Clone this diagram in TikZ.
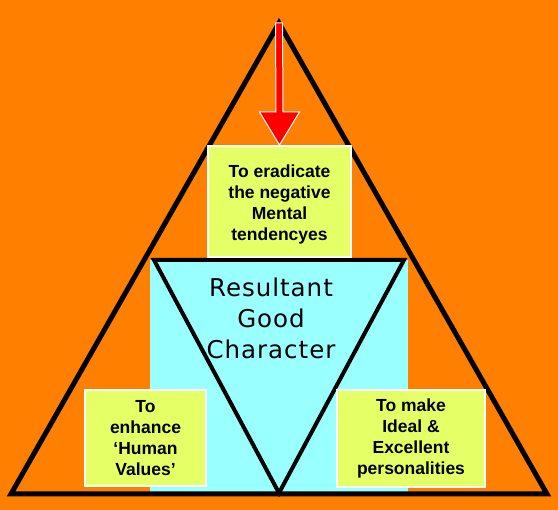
\documentclass[tikz,border=0pt]{standalone}
\usepackage{fontspec}
\setmainfont{Liberation Sans}
\newfontfamily\resfont[LetterSpace=4]{DejaVu Sans}
\usetikzlibrary{calc}
\definecolor{bgorange}{RGB}{255,128,0}
\definecolor{paleaqua}{RGB}{153,255,255}
\definecolor{limebox}{RGB}{229,255,102}

\begin{document}
\begin{tikzpicture}[x=1pt,y=-1pt,
    aim/.style={fill=limebox, draw=white, line width=2pt, align=center, inner sep=0pt,
        font=\fontsize{17.5}{21}\selectfont\bfseries},
    side/.style={line width=5pt, line join=miter},
    vee/.style={line width=4pt, line join=miter}]
    \fill[bgorange] (0,0) rectangle (558,510);
    \useasboundingbox (0,0) rectangle (558,510);
    \fill[paleaqua] (150,260) rectangle (408,494);
    \coordinate (apex) at (279,23);
    \coordinate (baseL) at (11,494);
    \coordinate (baseR) at (547,494);
    \draw[side] (apex) -- (baseL) -- (baseR) -- cycle;
    \draw[vee] (154,260) -- (404,260) -- (279,493) -- cycle;
    \node[aim, minimum width=143pt, minimum height=111pt] (erad) at (279.5,201.5)
        {\rule{0pt}{19.5pt}To eradicate\\the negative\\Mental\\tendencyes};
    \node[aim, minimum width=121pt, minimum height=96pt] (human) at (145.5,438)
        {To\\enhance\\‘Human\\Values’};
    \node[aim, minimum width=148pt, minimum height=97pt] (ideal) at (411,438.5)
        {To make\\Ideal \&\\Excellent\\personalities};
    \node[align=center, inner sep=0pt, font=\resfont\fontsize{24.5}{31}\selectfont] (result) at (271,318.5)
        {Resultant\\Good\\Character};
    \path (erad.north) ++(0,-33) coordinate (headbase);
    \filldraw[red, draw=white, line width=1pt, line join=miter]
        ([xshift=-3.5pt]apex) -- ([xshift=-3.5pt]headbase) -- ([xshift=-20pt]headbase)
        -- (erad.north) -- ([xshift=20pt]headbase) -- ([xshift=3.5pt]headbase)
        -- ([xshift=3.5pt]apex) -- cycle;
\end{tikzpicture}
\end{document}
